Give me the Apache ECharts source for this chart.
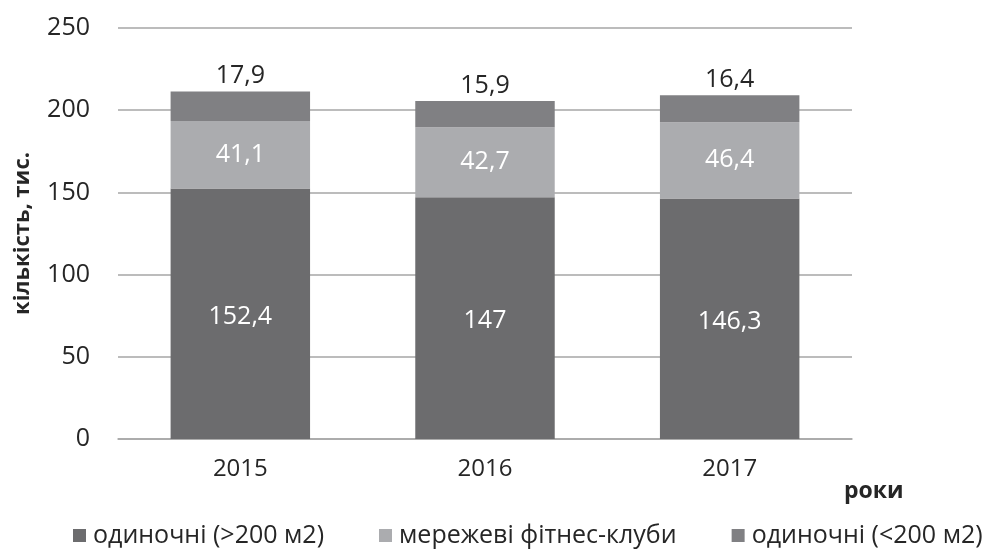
<!DOCTYPE html>
<html>
<head>
<meta charset="utf-8">
<script src="https://cdn.jsdelivr.net/npm/echarts@6/dist/echarts.min.js"></script>
<style>
  html, body { margin: 0; padding: 0; background: #fff; }
  #main { width: 1000px; height: 557px; }
</style>
</head>
<body>
<div id="main"></div>
<script>
// роки
var years = ['2015', '2016', '2017'];
var seriesNames = ['одиночні (>200 м2)', 'мережеві фітнес-клуби', 'одиночні (<200 м2)'];
var big = [152.4, 147, 146.3];
var chain = [41.1, 42.7, 46.4];
var small = [17.9, 15.9, 16.4];
var yTicks = { min: 0, max: 250, interval: 50 };

var font = "'Open Sans', sans-serif";
var fmt = function (p) { return String(p.value).replace('.', ','); };

var chart = echarts.init(document.getElementById('main'));
var option = {
  animation: false,
  color: ['#6c6c6e', '#abacaf', '#808083'],
  grid: { left: 118, right: 148, top: 28, bottom: 118 },
  legend: {
    data: seriesNames,
    bottom: 4,
    left: 68,
    icon: 'rect',
    itemWidth: 13,
    itemHeight: 13,
    itemGap: 55,
    textStyle: { fontFamily: font, fontSize: 25, color: '#262626', padding: [0, 0, 0, 2] }
  },
  xAxis: {
    type: 'category',
    data: years,
    axisLine: { lineStyle: { color: '#a6a6a6', width: 1.5 } },
    axisTick: { show: false },
    axisLabel: { margin: 18, fontFamily: font, fontSize: 24, color: '#262626' }
  },
  yAxis: {
    type: 'value',
    min: yTicks.min,
    max: yTicks.max,
    interval: yTicks.interval,
    name: 'кількість, тис.',
    nameLocation: 'middle',
    nameRotate: 90,
    nameGap: 84,
    nameTextStyle: { fontFamily: font, fontSize: 22, fontWeight: 'bold', color: '#262626' },
    axisLine: { show: false },
    axisTick: { show: false },
    axisLabel: { margin: 28, fontFamily: font, fontSize: 25, color: '#262626' },
    splitLine: { lineStyle: { color: '#a6a6a6', width: 1.5 } }
  },
  graphic: [{
    type: 'text',
    left: 844,
    top: 480,
    style: { text: 'роки', fontFamily: font, fontSize: 23, fontWeight: 'bold', fill: '#262626' }
  }],
  series: [{
    name: seriesNames[0],
    type: 'bar',
    stack: 'total',
    barWidth: '57%',
    data: big,
    label: { show: true, position: 'inside', offset: [0, 3], formatter: fmt, fontFamily: font, fontSize: 25, color: '#fff' }
  }, {
    name: seriesNames[1],
    type: 'bar',
    stack: 'total',
    data: chain,
    label: { show: true, position: 'inside', formatter: fmt, fontFamily: font, fontSize: 25, color: '#fff' }
  }, {
    name: seriesNames[2],
    type: 'bar',
    stack: 'total',
    data: small,
    label: { show: true, position: 'top', distance: 3, formatter: fmt, fontFamily: font, fontSize: 25, color: '#262626' }
  }]
};
chart.setOption(option);
</script>
</body>
</html>
